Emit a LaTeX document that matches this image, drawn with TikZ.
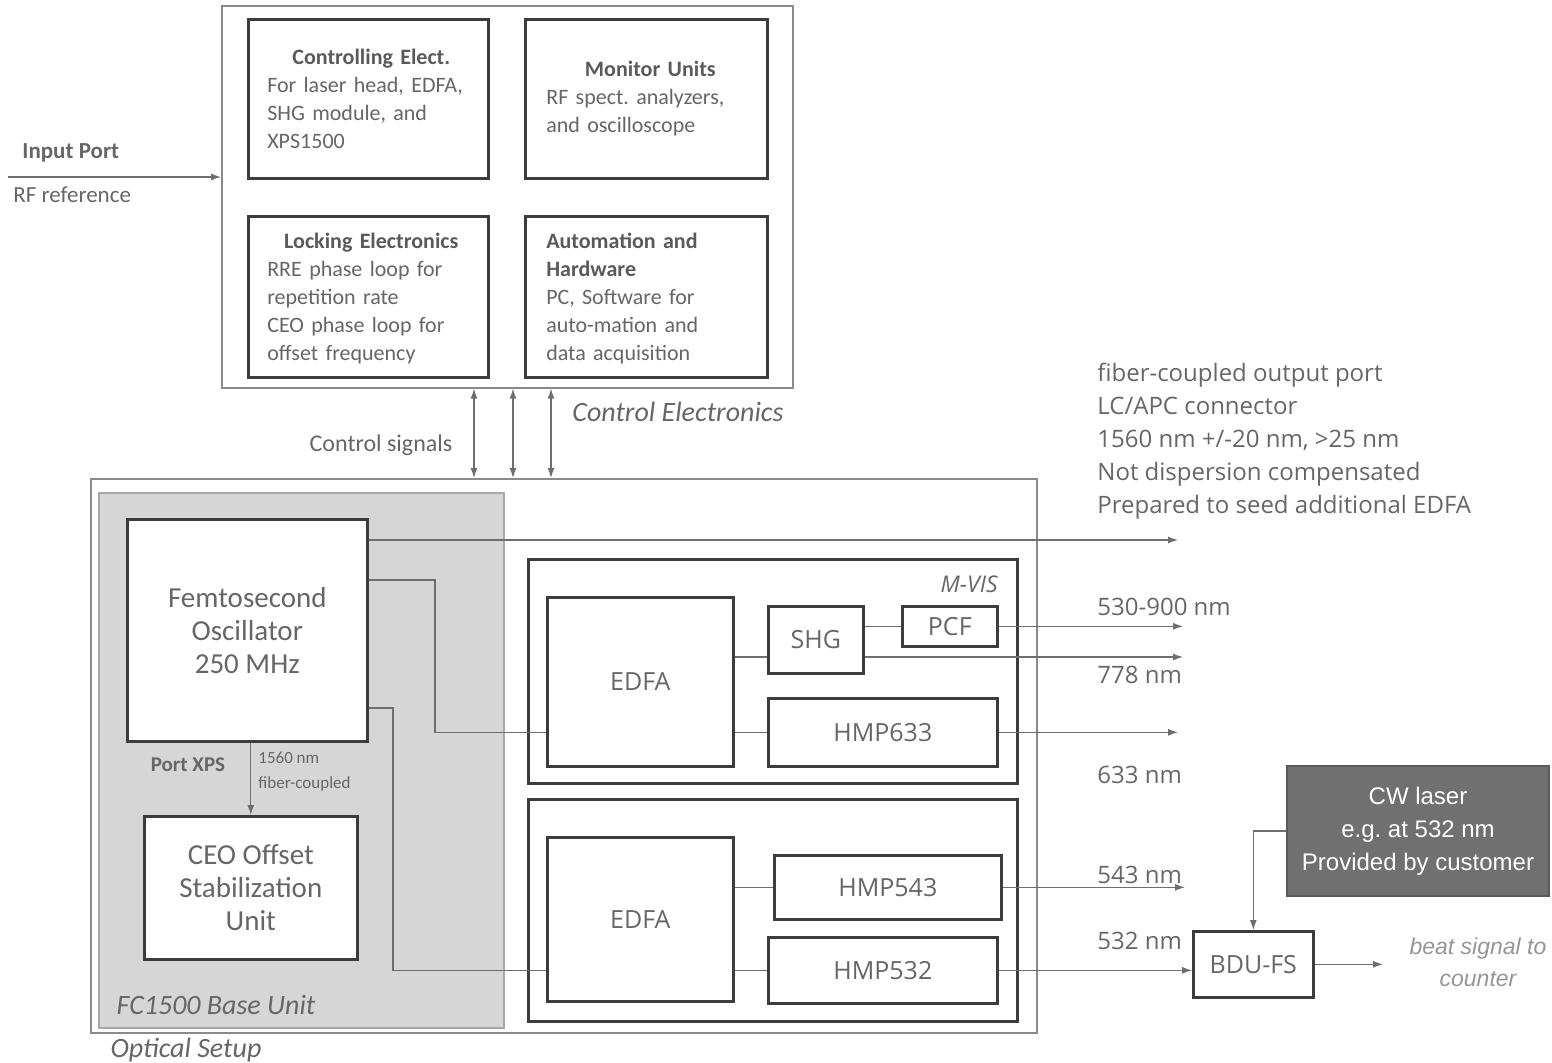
\documentclass[tikz,border=0pt]{standalone}
\usepackage{fontspec}
\setmainfont{Carlito}
\newfontfamily\os{Open Sans}
\newfontfamily\ar{Liberation Sans}
\usetikzlibrary{arrows.meta,calc}
\definecolor{tx}{HTML}{666666}
\definecolor{hd}{HTML}{5A5A5A}
\definecolor{bl}{HTML}{3C3C3C}
\definecolor{ln}{HTML}{6E6E6E}
\definecolor{fr}{HTML}{8A8A8A}
\definecolor{basef}{HTML}{D6D6D6}
\definecolor{basel}{HTML}{A8A8A8}
\definecolor{cwf}{HTML}{707070}
\definecolor{lt}{HTML}{959595}
\frenchspacing
\begin{document}
\begin{tikzpicture}[x=0.5pt,y=-0.5pt,
  bx/.style={draw=bl, line width=1.3pt, inner sep=0pt, anchor=north west, fill=white, text=tx},
  frame/.style={draw=fr, line width=0.8pt, inner sep=0pt, anchor=north west},
  thin/.style={draw=ln, line width=0.6pt},
  arr/.style={thin, -{Latex[length=5pt,width=3.5pt]}},
  dbl/.style={thin, {Latex[length=5pt,width=3.5pt]}-{Latex[length=5pt,width=3.5pt]}},
  txt/.style={text=tx, inner sep=0pt},
  ctext/.style={txt, text width=104pt, align=left, font=\fontsize{11}{14}\selectfont},
  big/.style={font=\fontsize{14.5}{16.5}\selectfont, align=center},
  mod/.style={font=\os\fontsize{12.5}{14}\selectfont},
  wl/.style={txt, anchor=west, font=\os\fontsize{12}{14}\selectfont},
  ital/.style={txt, font=\fontsize{14}{15}\selectfont\itshape}
]
\useasboundingbox (0,0) rectangle (1552,1062);

% ---------- Control electronics ----------
\node[frame, minimum width=285.5pt, minimum height=191pt] (ce) at (221,5) {};
\node[bx, minimum width=120pt, minimum height=79.5pt] (ctl) at (247,18) {};
\node[bx, minimum width=121pt, minimum height=79.5pt] (mon) at (524,18) {};
\node[bx, minimum width=120pt, minimum height=80.5pt] (lock) at (247,215) {};
\node[bx, minimum width=121pt, minimum height=80.5pt] (auto) at (524,215) {};

\node[ctext] (ctlT) at ($(ctl.center)+(3,0)$) {{\centering\color{hd}\bfseries Controlling Elect.\par}For laser head, EDFA,\\SHG module, and\\XPS1500};
\node[ctext] (monT) at ($(mon.center)+(4,0)$) {{\centering\color{hd}\bfseries Monitor Units\par}RF spect. analyzers,\\and oscilloscope};
\node[ctext] (lockT) at ($(lock.center)+(3,2)$) {{\centering\color{hd}\bfseries Locking Electronics\par}RRE phase loop for\\repetition rate\\CEO phase loop for\\offset frequency};
\node[ctext] (autoT) at ($(auto.center)+(4,2)$) {{\color{hd}\bfseries Automation and\\Hardware}\\PC, Software for\\auto-mation and\\data acquisition};

\node[ital] (ceL) at (678,412) {Control Electronics};

% input port
\node[txt, anchor=west, font=\fontsize{11.5}{12}\selectfont\bfseries\color{hd}] (inL) at (22,153) {Input Port};
\node[txt, anchor=west, font=\fontsize{11.5}{12}\selectfont] (rfL) at (13,195) {RF reference};
\coordinate (inS) at (8,177);
\draw[arr] (inS) -- (inS -| ce.west);

% ---------- Optical setup ----------
\node[frame, minimum width=473pt, minimum height=277pt] (opt) at (90,478) {};
\node[draw=basel, fill=basef, line width=1pt, inner sep=0pt, anchor=north west, minimum width=202.5pt, minimum height=267.5pt] (base) at (98,492) {};

\node[txt, font=\fontsize{12}{13}\selectfont] (csL) at (381,445) {Control signals};
\foreach \x/\n in {474/a,513/b,551/c}{
  \coordinate (cs\n) at (\x,440);
  \draw[dbl] (cs\n |- ce.south) -- (cs\n |- opt.north);
}

\node[bx, big, minimum width=120pt, minimum height=111pt] (osc) at (126,518) {Femtosecond\\Oscillator\\250 MHz};
\node[bx, big, minimum width=106.5pt, minimum height=71.5pt] (ceo) at (143,815) {CEO Offset\\Stabilization\\Unit};
\draw[arr] (osc.south -| ceo.north) -- (ceo.north);
\node[txt, font=\fontsize{10.5}{12}\selectfont\bfseries\color{hd}] (pxL) at (188,765) {Port XPS};
\node[txt, anchor=west, align=left, font=\fontsize{8.5}{12.5}\selectfont] (fcL) at (258,772) {1560 nm\\fiber-coupled};

\node[ital] (baseL) at (216,1005) {FC1500 Base Unit};
\node[ital] (optL) at (186,1050) {Optical Setup};

% M-VIS
\node[frame, draw=bl, line width=1.3pt, minimum width=244.5pt, minimum height=112pt] (mvis) at (527,558) {};
\node[ital, anchor=east, font=\os\fontsize{11.5}{13}\selectfont\itshape] (mvisL) at (998,584) {M-VIS};
\node[bx, mod, minimum width=93pt, minimum height=84.5pt] (edfa1) at (546,596) {EDFA};
\node[bx, mod, minimum width=47.5pt, minimum height=33.5pt] (shg) at (767,605) {SHG};
\node[bx, mod, minimum width=47.5pt, minimum height=20pt] (pcf) at (901,605) {PCF};
\node[bx, mod, minimum width=114.5pt, minimum height=34pt] (hmp633) at (767,697) {HMP633};

% lower module
\node[frame, draw=bl, line width=1.3pt, minimum width=244.5pt, minimum height=111pt] (low) at (527,798) {};
\node[bx, mod, minimum width=93pt, minimum height=82pt] (edfa2) at (546,836) {EDFA};
\node[bx, mod, minimum width=113.5pt, minimum height=32pt] (hmp543) at (773,854) {HMP543};
\node[bx, mod, minimum width=114.5pt, minimum height=33pt] (hmp532) at (767,936) {HMP532};

% BDU and CW laser
\node[bx, mod, minimum width=60pt, minimum height=33pt] (bdu) at (1192,930) {BDU-FS};
\node[bx, draw=cwf!80!black, fill=cwf, text=white, line width=1pt, align=center, font=\ar\fontsize{12}{16.5}\selectfont, minimum width=131pt, minimum height=65pt] (cw) at (1286,765) {CW laser\\e.g. at 532 nm\\Provided by customer};
\node[txt, text=lt, align=center, font=\ar\fontsize{11.5}{16}\selectfont\itshape] (beatL) at (1478,962) {beat signal to\\counter};

% ---------- connectors ----------
\coordinate (o1) at (1178,540);
\draw[arr] (o1 -| osc.east) -- (o1);
\coordinate (k2) at (435,580);
\draw[thin] (k2 -| osc.east) -- (k2) |- (edfa1.west |- hmp633.west);
\coordinate (k3) at (393,708);
\draw[thin] (k3 -| osc.east) -- (k3) |- (edfa2.west |- hmp532.west);

\coordinate (s1) at (0,657);
\coordinate (o778) at (1183,657);
\draw[thin] (edfa1.east |- s1) -- (shg.west |- s1);
\draw[arr] (shg.east |- s1) -- (o778);
\draw[thin] (shg.east |- pcf.west) -- (pcf.west);
\draw[arr] (pcf.east) -- (pcf.east -| o778);
\draw[thin] (edfa1.east |- hmp633.west) -- (hmp633.west);
\coordinate (o633) at (1178,0);
\draw[arr] (hmp633.east) -- (hmp633.east -| o633);

\draw[thin] (edfa2.east |- hmp543.west) -- (hmp543.west);
\coordinate (o543) at (1185,0);
\draw[arr] (hmp543.east) -- (hmp543.east -| o543);
\draw[thin] (edfa2.east |- hmp532.west) -- (hmp532.west);
\draw[arr] (hmp532.east) -- (bdu.west |- hmp532.east);

\draw[arr] (cw.west) -| (bdu.north);
\coordinate (ob) at (1383,0);
\draw[arr] (bdu.east) -- (bdu.east -| ob);

% ---------- right-hand labels ----------
\node[wl, align=left, font=\os\fontsize{12}{16.5}\selectfont] (fiberL) at (1097,441.5) {fiber-coupled output port\\LC/APC connector\\1560 nm +/-20 nm, >25 nm\\Not dispersion compensated\\Prepared to seed additional EDFA};
\node[wl] (l530) at (1097,607) {530-900 nm};
\node[wl] (l778) at (1097,675) {778 nm};
\node[wl] (l633) at (1097,775) {633 nm};
\node[wl] (l543) at (1097,875) {543 nm};
\node[wl] (l532) at (1097,941) {532 nm};
\end{tikzpicture}
\end{document}
